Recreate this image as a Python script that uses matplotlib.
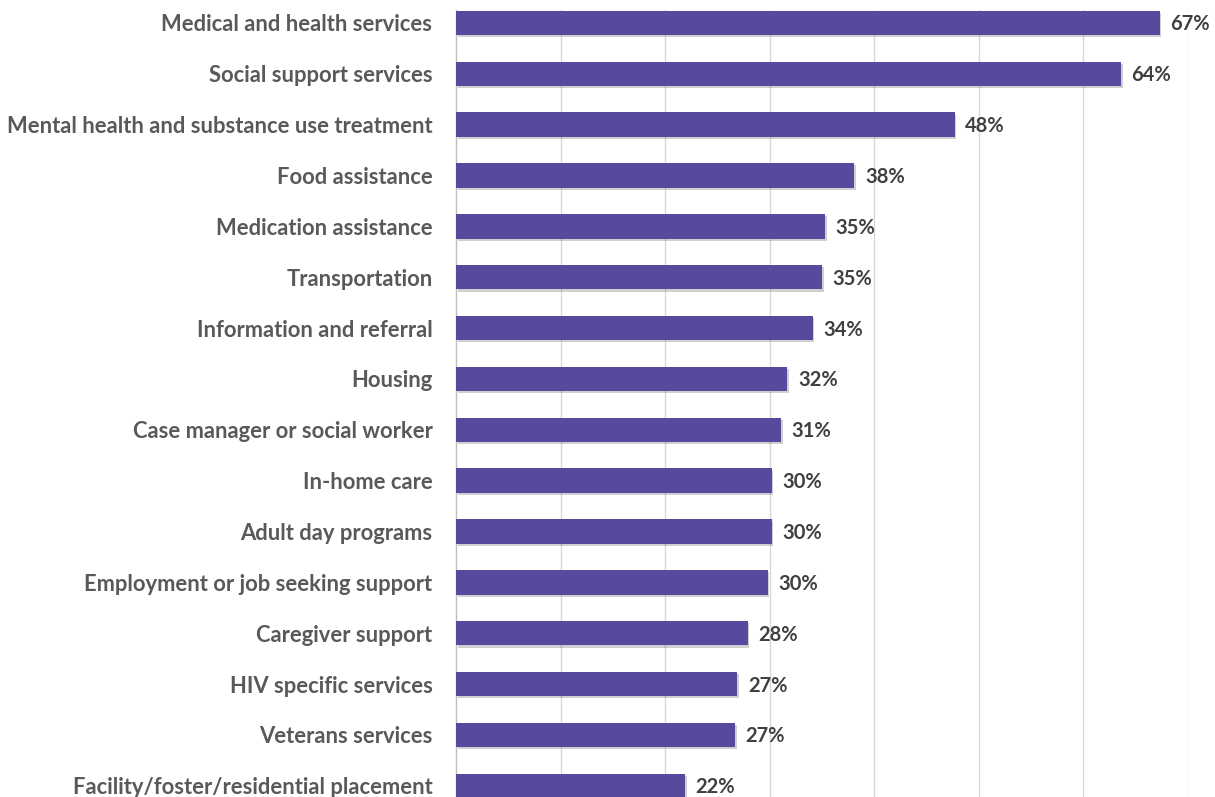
import matplotlib
matplotlib.use("Agg")
import matplotlib.pyplot as plt
import matplotlib.patheffects as pe
import numpy as np

# services, top to bottom
categories = [
    "Medical and health services",
    "Social support services",
    "Mental health and substance use treatment",
    "Food assistance",
    "Medication assistance",
    "Transportation",
    "Information and referral",
    "Housing",
    "Case manager or social worker",
    "In-home care",
    "Adult day programs",
    "Employment or job seeking support",
    "Caregiver support",
    "HIV specific services",
    "Veterans services",
    "Facility/foster/residential placement",
]
# percent of respondents (labels are rounded)
values = [67.3, 63.6, 47.7, 38.1, 35.3, 35.0, 34.1, 31.7, 31.1, 30.2, 30.2, 29.8, 27.9, 26.9, 26.7, 21.9]

BAR_COLOR = "#56499E"
LABEL_COLOR = "#595959"
VALUE_COLOR = "#404040"
GRID_COLOR = "#D9D9D9"

plt.rcParams["font.family"] = ["Lato", "DejaVu Sans"]

fig = plt.figure(figsize=(12.15, 7.97), dpi=100)
W, H = 1215, 797
left_px, right_px, top_px, bottom_px = 456, 1188, 10, 797
ax = fig.add_axes([left_px / W, 1 - bottom_px / H, (right_px - left_px) / W, (bottom_px - top_px) / H])

y = np.arange(len(categories))
bars = ax.barh(y, values, height=0.48, color=BAR_COLOR, zorder=3)
for b in bars:
    b.set_path_effects([pe.SimplePatchShadow(offset=(1.2, -1.5), alpha=0.25, shadow_rgbFace="#444444"), pe.Normal()])

for yi, v in zip(y, values):
    ax.text(v + 1.0, yi + 0.03, f"{v:.0f}%", va="center", ha="left", fontsize=14.5,
            fontweight="bold", color=VALUE_COLOR, zorder=4)

ax.set_xlim(0, 70)
ax.set_xticks(np.arange(10, 71, 10))
ax.set_ylim(15.22, -0.255)
ax.set_yticks(y)
ax.set_yticklabels(categories, fontsize=15.8, fontweight="bold", color=LABEL_COLOR)
ax.tick_params(axis="y", length=0, pad=17)
ax.tick_params(axis="x", length=0, labelbottom=False)

ax.grid(axis="x", color=GRID_COLOR, linewidth=1.0, zorder=0)
ax.grid(axis="y", visible=False)
for s in ("top", "right", "bottom"):
    ax.spines[s].set_visible(False)
ax.spines["left"].set_color("#BFBFBF")
ax.spines["left"].set_linewidth(1.0)

fig.savefig("out.png", dpi=100)
